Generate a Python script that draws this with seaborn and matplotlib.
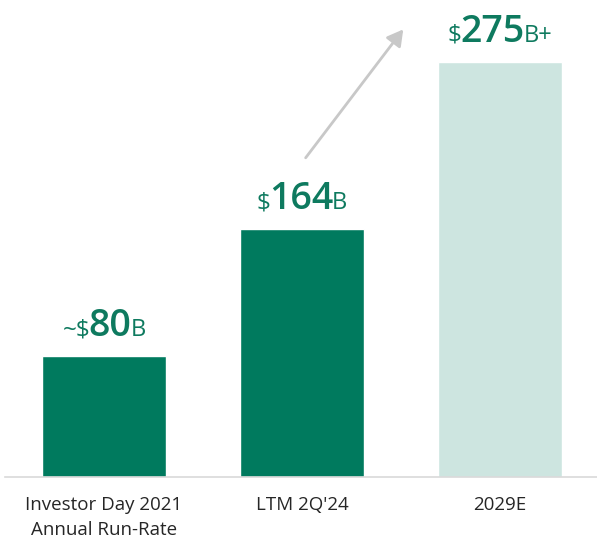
import matplotlib
matplotlib.use('Agg')
import matplotlib.pyplot as plt
import seaborn as sns
import pandas as pd
from matplotlib.offsetbox import TextArea, HPacker, AnnotationBbox

# Data
categories = ['Investor Day 2021\nAnnual Run-Rate', "LTM 2Q'24", '2029E']
values = [80, 164, 275]
prefixes = ['~$', '$', '$']
numbers = ['80', '164', '275']
suffixes = ['B', 'B', 'B+']
bar_colors = ['#007A5E', '#007A5E', '#CDE5E0']

sns.set_theme(style="white")
plt.rcParams['font.family'] = ['Open Sans', 'DejaVu Sans']

df = pd.DataFrame({'category': categories, 'value': values})

fig = plt.figure(figsize=(5.97, 5.44), dpi=100)
ax = fig.add_axes([5 / 597, 67 / 544, 592 / 597, 477 / 544])

sns.barplot(data=df, x='category', y='value', hue='category',
            palette=bar_colors, width=0.63, legend=False, ax=ax, saturation=1)

ax.set_xlim(-0.5, 2.49)
ax.set_ylim(0, 316)
ax.set_xlabel('')
ax.set_ylabel('')
ax.set_yticks([])
for side in ['top', 'right', 'left']:
    ax.spines[side].set_visible(False)
ax.spines['bottom'].set_color('#D9D9D9')
ax.spines['bottom'].set_linewidth(1.2)
ax.tick_params(axis='x', length=0, pad=14, labelsize=13.5, labelcolor='#262626')
for lbl in ax.get_xticklabels():
    lbl.set_linespacing(1.45)

# Value labels with mixed font sizes
text_color = '#0E7A5F'
for i, (pre, num, suf, val) in enumerate(zip(prefixes, numbers, suffixes, values)):
    parts = [
        TextArea(pre, textprops=dict(fontsize=17.5, color=text_color)),
        TextArea(num, textprops=dict(fontsize=27, color=text_color, fontweight='semibold')),
        TextArea(suf, textprops=dict(fontsize=17, color=text_color)),
    ]
    box = HPacker(children=parts, align='baseline', pad=0, sep=-1)
    ab = AnnotationBbox(box, (i, val), xybox=(0, 8), xycoords='data',
                        boxcoords='offset points', box_alignment=(0.5, 0),
                        frameon=False)
    ax.add_artist(ab)

# Growth arrow
ax.annotate('', xy=(1.52, 298), xytext=(1.01, 210),
            arrowprops=dict(arrowstyle='-|>,head_length=0.8,head_width=0.45',
                            color='#C8C8C8', lw=2))

plt.savefig('out.png', dpi=100)
